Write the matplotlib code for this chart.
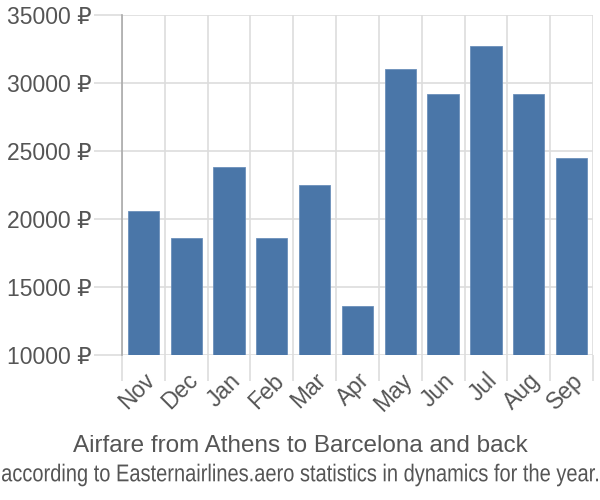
import matplotlib
matplotlib.use("Agg")
import matplotlib.pyplot as plt
from matplotlib.ticker import FuncFormatter, MultipleLocator
from matplotlib.textpath import TextPath
from matplotlib.patches import PathPatch
from matplotlib.font_manager import FontProperties
from matplotlib.transforms import Affine2D

# Monthly airfare, roubles
months = ["Nov", "Dec", "Jan", "Feb", "Mar", "Apr", "May", "Jun", "Jul", "Aug", "Sep"]
prices = [20600, 18600, 23800, 18600, 22500, 13600, 31000, 29200, 32700, 29200, 24500]

title = "Airfare from Athens to Barcelona and back"
subtitle = "according to Easternairlines.aero statistics in dynamics for the year."

plt.rcParams['font.family'] = ['Liberation Sans', 'DejaVu Sans']
text_color = "#555555"
grid_color = "#dddddd"

fig = plt.figure(figsize=(6, 5), dpi=100)
ax = fig.add_axes([0.2033, 0.29, 0.785, 0.68])

x = list(range(len(months)))
ax.bar(x, prices, width=0.73, color="#4a76a8", edgecolor="#6b8fbb", linewidth=0.6, zorder=3)

ax.set_xlim(-0.5, len(months) - 0.5)
ax.set_ylim(10000, 35000)
ax.yaxis.set_major_locator(MultipleLocator(5000))
ax.yaxis.set_major_formatter(FuncFormatter(lambda v, p: "%d ₽" % v))

# vertical grid at category boundaries
ax.set_xticks([i - 0.5 for i in x] + [len(months) - 0.5], minor=True)
ax.set_xticks(x)
ax.set_xticklabels(months, rotation=45, ha="right", rotation_mode="anchor")
ax.grid(True, which="minor", axis="x", color=grid_color, linewidth=1.2, zorder=0)
ax.grid(True, which="major", axis="y", color=grid_color, linewidth=1.2, zorder=0)
ax.tick_params(axis="x", which="major", length=0, pad=10, labelsize=16.5, labelcolor=text_color)
ax.tick_params(axis="x", which="minor", length=19, color=grid_color, width=1.2)
ax.tick_params(axis="y", length=20, color=grid_color, width=1.2, pad=2,
               labelsize=16.5, labelcolor=text_color)

for s in ["top", "right", "bottom"]:
    ax.spines[s].set_visible(False)
ax.spines["left"].set_color("#aaaaaa")
ax.spines["left"].set_linewidth(1.2)
ax.spines["left"].set_bounds(10000, 35000)

fig.text(0.5, 0.108, title, ha="center", va="center", fontsize=17.5, color=text_color)

# subtitle is drawn condensed to fit the width
tp = TextPath((0, 0), subtitle, size=17.5, prop=FontProperties(family="Liberation Sans"))
ext = tp.get_extents()
k = fig.dpi / 72.0
sx = 596.0 / (ext.width * k)
tr = Affine2D().translate(-ext.x0 - ext.width / 2, -ext.y0 - ext.height / 2) \
    .scale(sx * k, k).translate(300, 500 - 475)
fig.add_artist(PathPatch(tp, transform=tr, facecolor=text_color, edgecolor="none"))

fig.savefig("out.png", dpi=100)
